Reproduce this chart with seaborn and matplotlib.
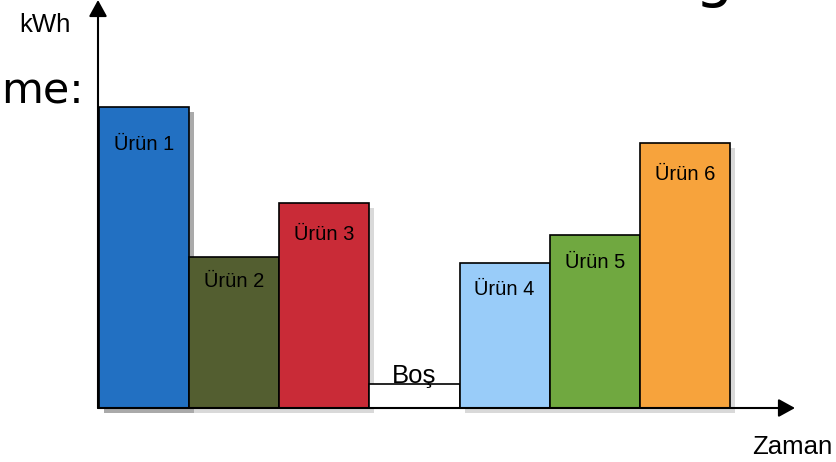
import matplotlib
matplotlib.use("Agg")
import matplotlib.pyplot as plt
from matplotlib.patches import Rectangle
from matplotlib.transforms import offset_copy
import seaborn as sns
import pandas as pd

# Energy use per production slot (kWh), in time order
items = ["Ürün 1", "Ürün 2", "Ürün 3", "Boş", "Ürün 4", "Ürün 5", "Ürün 6"]
kwh = [100, 50, 68, 8, 48, 57.5, 88]
bar_colors = ["#2270C2", "#535E30", "#C92B37", "#FFFFFF", "#99CCF9", "#70A840", "#F7A33C"]

y_label = "kWh"
x_label = "Zaman"
idle_name = "Boş"

df = pd.DataFrame({"item": items, "kwh": kwh})

sns.set_theme(style="white")
plt.rcParams["font.family"] = ["Liberation Sans", "DejaVu Sans"]
plt.rcParams["text.color"] = "black"

W, H = 836, 462
fig = plt.figure(figsize=(W / 100, H / 100), dpi=100)
ax = fig.add_axes([98 / W, 54 / H, (795 - 98) / W, 408 / H])

sns.barplot(data=df, x="item", y="kwh", hue="item", order=items, hue_order=items,
            palette=bar_colors, saturation=1, width=1, legend=False,
            edgecolor="black", linewidth=1.2, ax=ax)

# axis ranges: one bar ≈ 90 px, baseline-to-top ≈ 135.5 kWh
ax.set_xlim(-0.511, 7.221)
ax.set_ylim(0, 135.5)
ax.set_xticks([])
ax.set_yticks([])
ax.set_xlabel("")
ax.set_ylabel("")
for s in ax.spines.values():
    s.set_visible(False)

# drop shadows behind the product bars (shifted right and down)
shadow_colors = ["#aaaaaa"] + ["#d9d9d9"] * (len(items) - 1)
shadow_tf = offset_copy(ax.transData, fig=fig, x=3.6, y=-3.6, units="points")
bars = list(ax.patches)
for bar, name, sc in zip(bars, items, shadow_colors):
    bar.set_zorder(3)
    if name == idle_name:
        continue
    ax.add_artist(Rectangle((bar.get_x(), bar.get_y()), bar.get_width(), bar.get_height(),
                            transform=shadow_tf, facecolor=sc, edgecolor="none",
                            zorder=2, clip_on=False))

# labels inside bars (baseline offset below the bar top, in points)
label_drop = [31, 21.6, 26.6, 0, 23, 23.8, 26.6]
for bar, name, v, d in zip(bars, items, kwh, label_drop):
    cx = bar.get_x() + bar.get_width() / 2
    if name == idle_name:
        ax.annotate(name, (cx, v), xytext=(0, 0.8), textcoords="offset points",
                    ha="center", va="baseline", fontsize=18.5, color="black", zorder=5)
    else:
        ax.annotate(name, (cx, v), xytext=(0, -d), textcoords="offset points",
                    ha="center", va="baseline", fontsize=14.5, color="black", zorder=5)

# axis arrows
arrow = dict(arrowstyle="-|>,head_length=1.0,head_width=0.55", lw=1.5,
             color="black", shrinkA=0, shrinkB=0, mutation_scale=10)
ax.annotate("", xy=(1, 0), xytext=(0, 0), xycoords="axes fraction",
            arrowprops=arrow, annotation_clip=False, zorder=6)
ax.annotate("", xy=(0, 1), xytext=(0, 0), xycoords="axes fraction",
            arrowprops=arrow, annotation_clip=False, zorder=6)

fig.text(45 / W, 1 - 32 / H, y_label, ha="center", va="baseline", fontsize=18.5)
fig.text(792 / W, 1 - 454 / H, x_label, ha="center", va="baseline", fontsize=18.5)

# fragments of the slide title around the chart
fig.text(84 / W, 1 - 103 / H, "me:", ha="right", va="baseline", fontsize=31,
         family="DejaVu Sans")
fig.text(714 / W, 1 + 5 / H, "g", ha="center", va="baseline", fontsize=44,
         family="DejaVu Sans")

fig.savefig("out.png", dpi=100)
